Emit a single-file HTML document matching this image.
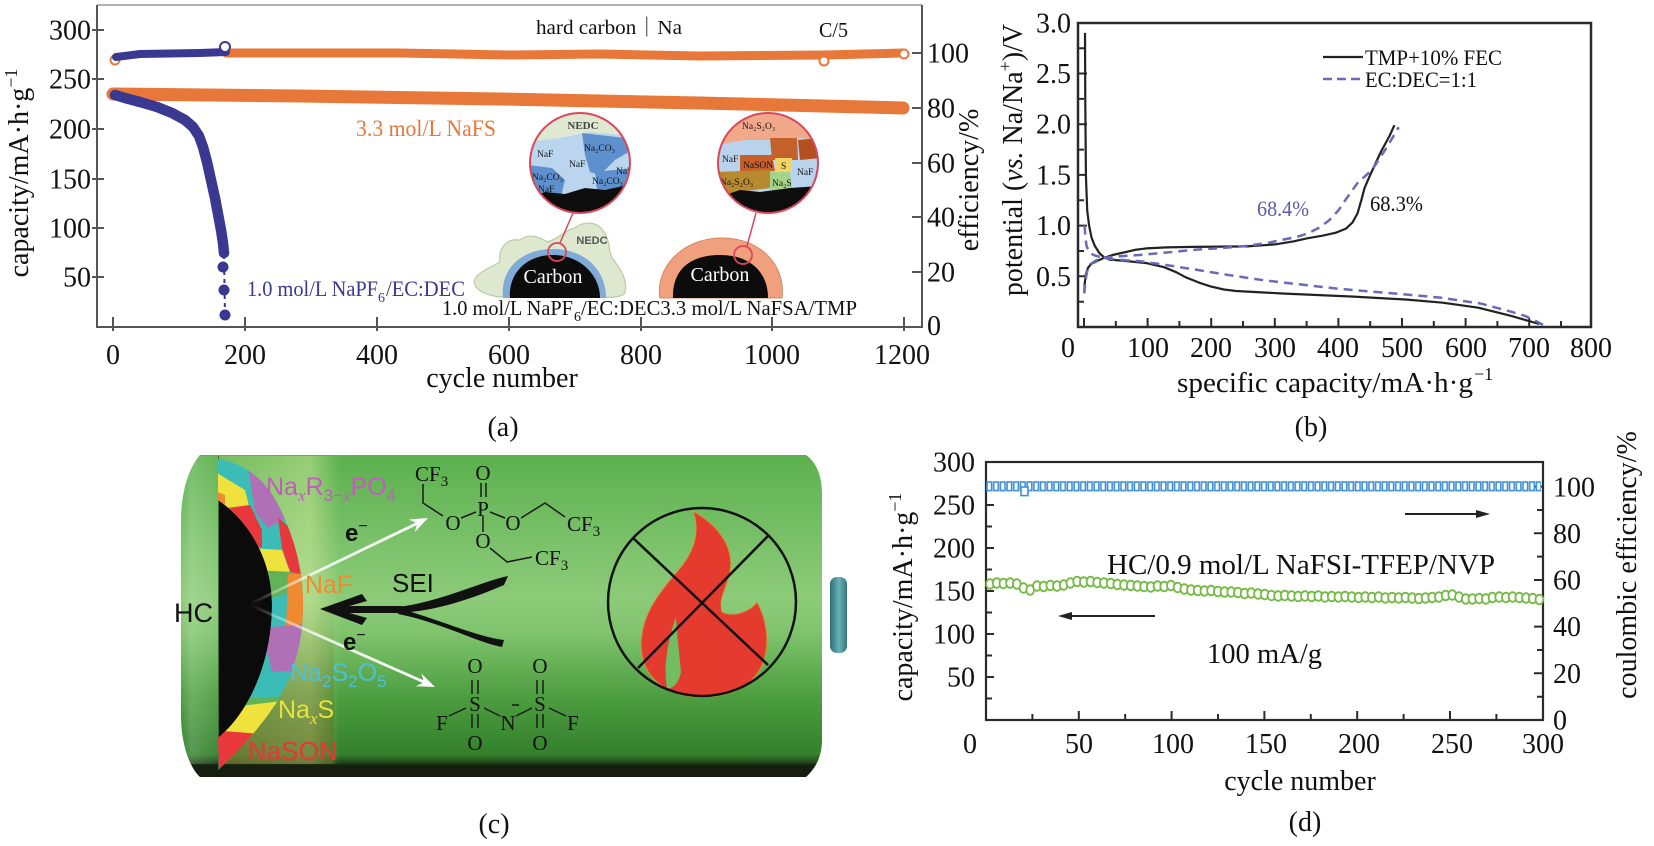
<!DOCTYPE html>
<html><head><meta charset="utf-8">
<style>
html,body{margin:0;padding:0;background:#fff;}
svg{display:block;}
text{font-family:"Liberation Serif","Noto Serif CJK SC",serif;fill:#111;}
.s{font-family:"Liberation Sans","Noto Sans CJK SC",sans-serif;}
</style></head><body>
<svg width="1654" height="846" viewBox="0 0 1654 846" xmlns="http://www.w3.org/2000/svg">
<defs>
<linearGradient id="bodyG" x1="0" y1="455" x2="0" y2="777" gradientUnits="userSpaceOnUse">
<stop offset="0" stop-color="#5bb04d"/>
<stop offset="0.28" stop-color="#7cc26b"/>
<stop offset="0.45" stop-color="#8ccb79"/>
<stop offset="0.55" stop-color="#80c46d"/>
<stop offset="0.75" stop-color="#4d9e40"/>
<stop offset="0.93" stop-color="#34802c"/>
<stop offset="0.955" stop-color="#22461a"/>
<stop offset="0.965" stop-color="#161e10"/>
<stop offset="1" stop-color="#161e10"/>
</linearGradient>
<linearGradient id="leftG" x1="219" y1="0" x2="340" y2="0" gradientUnits="userSpaceOnUse">
<stop offset="0" stop-color="#e0f0a8" stop-opacity="0.2"/>
<stop offset="0.75" stop-color="#e0f0a8" stop-opacity="0.45"/>
<stop offset="1" stop-color="#e0f0a8" stop-opacity="0"/>
</linearGradient>
<linearGradient id="oliveG" x1="0" y1="600" x2="0" y2="765" gradientUnits="userSpaceOnUse">
<stop offset="0" stop-color="#6e641e" stop-opacity="0"/>
<stop offset="1" stop-color="#6e641e" stop-opacity="0.55"/>
</linearGradient>
<linearGradient id="capG" x1="180" y1="0" x2="219" y2="0" gradientUnits="userSpaceOnUse">
<stop offset="0" stop-color="#ffffff" stop-opacity="0"/>
<stop offset="0.3" stop-color="#ffffff" stop-opacity="0.18"/>
<stop offset="1" stop-color="#ffffff" stop-opacity="0.05"/>
</linearGradient>
<linearGradient id="term" x1="830" y1="0" x2="848" y2="0" gradientUnits="userSpaceOnUse">
<stop offset="0" stop-color="#2c6f76"/>
<stop offset="0.5" stop-color="#6ab2b8"/>
<stop offset="1" stop-color="#2f6f75"/>
</linearGradient>
<linearGradient id="wa1" x1="250" y1="604" x2="420" y2="522" gradientUnits="userSpaceOnUse">
<stop offset="0" stop-color="#fff" stop-opacity="0"/>
<stop offset="0.4" stop-color="#fff" stop-opacity="0.8"/>
<stop offset="1" stop-color="#fff"/>
</linearGradient>
<linearGradient id="wa2" x1="250" y1="605" x2="424" y2="682" gradientUnits="userSpaceOnUse">
<stop offset="0" stop-color="#fff" stop-opacity="0"/>
<stop offset="0.4" stop-color="#fff" stop-opacity="0.8"/>
<stop offset="1" stop-color="#fff"/>
</linearGradient>
<clipPath id="seiClip"><path d="M218,459 C245,463 268,480 283,515 C298,548 304,580 303,610 C302,650 290,685 270,712 C255,733 238,752 219,769 L218,738 C250,712 272,660 272,605 C272,555 245,518 218,500 Z"/></clipPath>
<clipPath id="cl1"><circle cx="580" cy="163" r="50"/></clipPath>
<clipPath id="cl2"><circle cx="768" cy="163" r="50"/></clipPath>
<pattern id="sq" x="986" y="480" width="6.7" height="14" patternUnits="userSpaceOnUse">
<rect x="1" y="2" width="4.6" height="8.6" fill="#fff" stroke="#3f8fd6" stroke-width="1.6"/>
</pattern>
<marker id="gc" markerWidth="14" markerHeight="14" refX="7" refY="7" markerUnits="userSpaceOnUse">
<ellipse cx="7" cy="7" rx="3.9" ry="4.8" fill="#fff" stroke="#74b944" stroke-width="1.8"/>
</marker>
</defs>

<!-- ================= PANEL A ================= -->
<line x1="97" y1="5" x2="922" y2="5" stroke="#999" stroke-width="1.5"/>
<line x1="97" y1="5" x2="97" y2="328" stroke="#555" stroke-width="2"/>
<line x1="96" y1="327" x2="923" y2="327" stroke="#555" stroke-width="2"/>
<line x1="922" y1="5" x2="922" y2="328" stroke="#555" stroke-width="2"/>
<path d="M92,30H104 M92,79H104 M92,129H104 M92,179H104 M92,228H104 M92,277H104" stroke="#555" stroke-width="2"/>
<path d="M113,317V331 M245,317V331 M377,317V331 M509,317V331 M641,317V331 M772,317V331 M904,317V331" stroke="#555" stroke-width="2"/>
<path d="M912,53H922 M912,108H922 M912,163H922 M912,217H922 M912,272H922" stroke="#555" stroke-width="2"/>
<g font-size="28" text-anchor="end">
<text x="91" y="39.5">300</text><text x="91" y="88.5">250</text><text x="91" y="138.5">200</text>
<text x="91" y="188.5">150</text><text x="91" y="237.5">100</text><text x="91" y="286.5">50</text>
</g>
<g font-size="28" text-anchor="middle">
<text x="113" y="364">0</text><text x="245" y="364">200</text><text x="377" y="364">400</text>
<text x="509" y="364">600</text><text x="641" y="364">800</text><text x="772" y="364">1000</text><text x="902" y="364">1200</text>
<text x="502" y="387">cycle number</text>
<text x="503" y="436">(a)</text>
</g>
<g font-size="28">
<text x="927" y="62.5">100</text><text x="927" y="117.5">80</text><text x="927" y="172.5">60</text>
<text x="927" y="226.5">40</text><text x="927" y="281.5">20</text><text x="927" y="335">0</text>
</g>
<text font-size="28" text-anchor="middle" transform="translate(28,173) rotate(-90)">capacity/mA·h·g<tspan font-size="18" dy="-11">−1</tspan></text>
<text font-size="28" text-anchor="middle" transform="translate(978,180) rotate(-90)">efficiency/%</text>

<!-- orange series -->
<polyline points="113,94 300,96 500,99 700,103 903,108" fill="none" stroke="#e8773a" stroke-width="13" stroke-linecap="round" stroke-linejoin="round"/>
<polyline points="226,53 400,53 512,55 600,54 700,56 824,55 903,53" fill="none" stroke="#e8773a" stroke-width="9" stroke-linecap="round" stroke-linejoin="round"/>
<circle cx="115" cy="60" r="4.5" fill="#fff" stroke="#e8773a" stroke-width="2"/>
<circle cx="824" cy="61" r="4.5" fill="#fff" stroke="#e8773a" stroke-width="2"/>
<circle cx="904" cy="54" r="4.5" fill="#fff" stroke="#e8773a" stroke-width="2"/>
<!-- navy series -->
<polyline points="116,57 140,54 200,53 226,52" fill="none" stroke="#3b3892" stroke-width="8" stroke-linecap="round"/>
<circle cx="225" cy="47" r="5" fill="#fff" stroke="#3b3892" stroke-width="2"/>
<polyline points="115,95 125,98 140,102 157,107 172,113 185,120 193,127 199,136 203,147 207,162 211,180 215,198 218,214 221,230 223,243 224,253" fill="none" stroke="#3b3892" stroke-width="10.5" stroke-linecap="round" stroke-linejoin="round"/>
<line x1="224" y1="255" x2="225" y2="315" stroke="#3b3892" stroke-width="2" stroke-dasharray="4 4"/>
<circle cx="223" cy="267" r="5.5" fill="#3b3892"/>
<circle cx="224" cy="290" r="5.5" fill="#3b3892"/>
<circle cx="225" cy="315" r="5.5" fill="#3b3892"/>

<text x="536" y="34" font-size="20" textLength="146" lengthAdjust="spacingAndGlyphs">hard carbon｜Na</text>
<text x="819" y="37" font-size="21" textLength="29" lengthAdjust="spacingAndGlyphs">C/5</text>
<text x="356" y="136" font-size="23" fill="#e8773a" style="fill:#e8773a" textLength="140" lengthAdjust="spacingAndGlyphs">3.3  mol/L NaFS</text>
<text x="247" y="296" font-size="22" style="fill:#3b3892" textLength="131" lengthAdjust="spacingAndGlyphs">1.0 mol/L NaPF</text>
<text x="378" y="302" font-size="14" style="fill:#3b3892">6</text>
<text x="386" y="296" font-size="22" style="fill:#3b3892" textLength="79" lengthAdjust="spacingAndGlyphs">/EC:DEC</text>

<!-- insets -->
<path d="M475,285 C470,275 490,268 500,262 C498,250 505,238 520,240 C530,232 540,238 548,242 C560,238 565,230 575,228 C585,220 598,222 604,232 C610,240 608,250 612,258 C620,268 628,280 625,292 C625,297 610,298 600,297 L500,297 C490,296 478,292 475,285 Z" fill="#dde8cf" stroke="#b8cca4" stroke-width="1.2"/>
<path d="M503,298 C500,270 520,249 553,249 C585,249 606,270 606,298 Z" fill="#80aad8"/>
<path d="M510,298 C508,275 525,255 553,255 C580,255 600,275 600,298 Z" fill="#0c0c0c"/>
<text x="553" y="283" font-size="20" text-anchor="middle" style="fill:#fff">Carbon</text>
<text x="592" y="244" font-size="11" text-anchor="middle" class="s" style="fill:#555;font-weight:bold">NEDC</text>
<path d="M660,298 C655,270 680,239 720,238 C760,237 786,265 782,298 Z" fill="#f1a07d" stroke="#d48866" stroke-width="1"/>
<path d="M673,298 C672,270 690,255 720,255 C750,255 768,272 768,298 Z" fill="#0c0c0c"/>
<text x="720" y="281" font-size="20" text-anchor="middle" style="fill:#fff">Carbon</text>
<circle cx="557" cy="252" r="9" fill="none" stroke="#d9475a" stroke-width="1.8"/>
<circle cx="743" cy="255" r="9" fill="none" stroke="#d9475a" stroke-width="1.8"/>
<line x1="573" y1="213" x2="560" y2="243" stroke="#d9475a" stroke-width="1.5"/>
<line x1="756" y1="213" x2="747" y2="246" stroke="#d9475a" stroke-width="1.5"/>
<g clip-path="url(#cl1)">
<rect x="528" y="111" width="104" height="104" fill="#dfe9d2"/>
<path d="M528,142 L560,138 L590,132 L632,136 L632,200 L528,200Z" fill="#bcd5ee"/>
<path d="M582,133 L625,138 L632,150 L615,160 L600,175 L590,172 L585,155Z" fill="#5d90cc"/>
<path d="M528,165 L552,168 L565,180 L560,200 L528,200Z" fill="#5d90cc"/>
<path d="M595,172 L632,168 L632,200 L598,200Z" fill="#5d90cc"/>
<path d="M528,198 L545,192 L565,194 L585,188 L605,190 L632,184 L632,215 L528,215Z" fill="#0d0d0d"/>
<g class="s" font-size="9.5" style="fill:#2b3550">
<text x="583" y="129" style="fill:#444;font-weight:bold" font-size="11" text-anchor="middle">NEDC</text>
<text x="537" y="157">NaF</text><text x="584" y="151">Na₂CO₃</text><text x="569" y="167">NaF</text>
<text x="532" y="180">Na₂CO₃</text><text x="592" y="184">Na₂CO₃</text><text x="538" y="192">NaF</text><text x="616" y="174">NaF</text>
</g>
</g>
<circle cx="580" cy="163" r="50" fill="none" stroke="#d9475a" stroke-width="2"/>
<g clip-path="url(#cl2)">
<rect x="716" y="111" width="104" height="104" fill="#b9d3ec"/>
<path d="M716,111 H820 V140 L800,138 L775,140 L745,140 L716,145Z" fill="#f2a98a"/>
<path d="M770,138 L797,138 L798,160 L772,160Z" fill="#c4602a"/>
<path d="M798,140 L820,138 L820,158 L800,160Z" fill="#b45020"/>
<path d="M740,155 L772,155 L775,171 L740,172Z" fill="#c8602c"/>
<path d="M775,158 L792,158 L792,172 L776,172Z" fill="#f4d465"/>
<path d="M716,172 L770,170 L770,188 L716,195Z" fill="#b88a30"/>
<path d="M770,172 L790,172 L792,190 L770,190Z" fill="#a4d48a"/>
<path d="M716,198 L740,190 L760,192 L790,188 L820,186 V215 H716Z" fill="#0d0d0d"/>
<g class="s" font-size="9.5" style="fill:#3a2a20">
<text x="742" y="129">Na₂S₂O₃</text><text x="722" y="162">NaF</text><text x="743" y="168">NaSON</text>
<text x="781" y="169">S</text><text x="720" y="185">Na₂S₂O₃</text><text x="772" y="186">Na₂S</text><text x="797" y="175">NaF</text>
</g>
</g>
<circle cx="768" cy="163" r="50" fill="none" stroke="#d9475a" stroke-width="2"/>
<text x="442" y="315" font-size="21" textLength="131" lengthAdjust="spacingAndGlyphs">1.0 mol/L NaPF</text>
<text x="574" y="321" font-size="14">6</text>
<text x="581" y="315" font-size="21" textLength="276" lengthAdjust="spacingAndGlyphs">/EC:DEC3.3 mol/L NaFSA/TMP</text>

<!-- ================= PANEL B ================= -->
<rect x="1078" y="23" width="513" height="304" fill="none" stroke="#2a2a2a" stroke-width="2.5"/>
<path d="M1079,301.7H1084 M1079,276.3H1087 M1079,251H1084 M1079,225.6H1087 M1079,200.3H1084 M1079,174.9H1087 M1079,149.6H1084 M1079,124.2H1087 M1079,98.9H1084 M1079,73.5H1087 M1079,48.2H1084" stroke="#2a2a2a" stroke-width="2"/>
<path d="M1084,326V318 M1115.8,326V321 M1147.6,326V318 M1179.4,326V321 M1211.2,326V318 M1243,326V321 M1274.8,326V318 M1306.6,326V321 M1338.4,326V318 M1370.2,326V321 M1402,326V318 M1433.8,326V321 M1465.6,326V318 M1497.4,326V321 M1529.2,326V318 M1561,326V321" stroke="#2a2a2a" stroke-width="2"/>
<g font-size="28" text-anchor="end">
<text x="1071" y="32.5">3.0</text><text x="1071" y="82.8">2.5</text><text x="1071" y="133.7">2.0</text>
<text x="1071" y="184.4">1.5</text><text x="1071" y="235.1">1.0</text><text x="1071" y="285.8">0.5</text>
</g>
<g font-size="28" text-anchor="middle">
<text x="1068" y="357">0</text><text x="1148" y="357">100</text><text x="1211" y="357">200</text><text x="1275" y="357">300</text>
<text x="1338" y="357">400</text><text x="1402" y="357">500</text><text x="1466" y="357">600</text><text x="1529" y="357">700</text><text x="1591" y="357">800</text>
<text x="1311" y="436">(b)</text>
</g>
<text x="1177" y="392" font-size="28" textLength="296" lengthAdjust="spacingAndGlyphs">specific capacity/mA·h·g</text>
<text x="1474" y="380" font-size="18">−1</text>
<text font-size="28" text-anchor="middle" transform="translate(1022,160) rotate(-90)">potential (<tspan font-style="italic">vs.</tspan> Na/Na<tspan font-size="18" dy="-11">+</tspan><tspan dy="11">)/V</tspan></text>
<polyline points="1085,32.9 1085.3,103.9 1085.9,174.9 1087.2,210.4 1089.1,225.6 1091.6,237.8 1094.8,245.9 1099.3,253 1103.7,257 1109.4,259.6 1122.2,260.6 1146.3,263.1 1164.1,267.2 1176.2,272.2 1185.8,277.3 1198.5,282.4 1210.6,286.4 1223.9,289.5 1236,291 1282.4,293.5 1353.7,296.6 1407.1,299.6 1442.7,302.7 1478.3,307.7 1510.8,315.8 1528.6,320.9 1539.4,324" fill="none" stroke="#222" stroke-width="2.2" stroke-linejoin="round"/>
<polyline points="1084.3,291.5 1084.6,284.4 1085.9,274.3 1087.8,268.2 1091,264.1 1096.7,261.1 1103.7,258 1112.6,255 1121.5,253 1134.9,249.9 1146.3,248.4 1166.7,247.4 1192.8,246.9 1246.8,246.4 1274.8,244.4 1293.9,241.3 1307.2,238.3 1322.5,235.7 1335.9,232.7 1346,228.6 1352.4,222.6 1357.5,213.4 1361.3,200.3 1364.5,188.1 1370.2,174.9 1381,151.6 1389.3,136.4 1394.4,125.2" fill="none" stroke="#222" stroke-width="2.2" stroke-linejoin="round"/>
<polyline points="1084.6,225.6 1085.3,235.7 1086.5,245.9 1089.1,252 1093.5,255 1103.7,258 1115.8,259.6 1139.3,261.1 1166.7,265.1 1192.8,269.2 1230.3,275.3 1264.6,280.4 1300.2,284.4 1335.9,288.5 1370.2,291.5 1407.1,294.6 1440.2,297.6 1460.5,300.6 1481.5,303.7 1496.1,307.7 1511.4,311.8 1524.7,315.8 1535.6,320.9 1543.2,325" fill="none" stroke="#6a6ab8" stroke-width="2.5" stroke-dasharray="9 6" stroke-linejoin="round"/>
<polyline points="1084.3,293.5 1085.3,281.4 1087.2,271.2 1090.4,264.1 1096.7,260.1 1103.7,258 1115.8,256.5 1139.3,255 1166.7,252.5 1192.8,249.9 1223.9,247.9 1246.8,245.9 1268.4,242.8 1282.4,239.8 1297.1,236.8 1307.2,233.7 1319.3,227.6 1328.9,220.5 1338.4,210.4 1346,199.2 1357.5,183 1372.1,169.8 1386.1,148.5 1398.8,127.2" fill="none" stroke="#6a6ab8" stroke-width="2.5" stroke-dasharray="9 6" stroke-linejoin="round"/>
<line x1="1323" y1="57" x2="1363" y2="57" stroke="#222" stroke-width="2.2"/>
<line x1="1323" y1="79" x2="1363" y2="79" stroke="#6a6ab8" stroke-width="2.5" stroke-dasharray="9 5"/>
<text x="1365" y="65" font-size="22" textLength="137" lengthAdjust="spacingAndGlyphs">TMP+10% FEC</text>
<text x="1365" y="87" font-size="22" textLength="112" lengthAdjust="spacingAndGlyphs">EC:DEC=1:1</text>
<text x="1257" y="216" font-size="22" style="fill:#5a5aaa" textLength="52" lengthAdjust="spacingAndGlyphs">68.4%</text>
<text x="1370" y="211" font-size="22" textLength="53" lengthAdjust="spacingAndGlyphs">68.3%</text>

<!-- ================= PANEL C ================= -->
<path d="M200,455 L806,455 C816,462 822,475 822,495 L822,740 C822,756 816,768 806,777 L200,777 C190,768 181,745 181,715 L181,520 C181,490 190,466 200,455 Z" fill="url(#bodyG)"/>
<rect x="181" y="456" width="38" height="308" fill="url(#capG)"/>
<rect x="219" y="456" width="121" height="308" fill="url(#leftG)"/>
<rect x="219" y="600" width="115" height="164" fill="url(#oliveG)"/>
<rect x="830" y="577" width="17" height="76" rx="7" fill="url(#term)"/>
<path d="M218,500 C245,518 272,555 272,605 C272,660 250,712 218,738 Z" fill="#0b0b0b"/>
<line x1="218.5" y1="456" x2="218.5" y2="770" stroke="#3c6a30" stroke-width="1"/>
<g clip-path="url(#seiClip)">
<rect x="212" y="455" width="96" height="325" fill="#3bbcb6"/>
<polygon points="212,470 245,490 250,510 212,515" fill="#f0e23c"/>
<polygon points="212,490 225,495 225,510 212,510" fill="#f08a30"/>
<polygon points="248,466 290,485 292,515 268,528 255,512" fill="#b070b5"/>
<polygon points="212,510 250,505 262,530 262,548 240,540" fill="#e8383c"/>
<polygon points="278,518 306,540 306,575 290,572 282,548" fill="#e8383c"/>
<polygon points="250,548 282,550 290,572 262,575" fill="#f0e23c"/>
<polygon points="255,570 292,572 296,590 272,598" fill="#62b25a"/>
<polygon points="288,574 308,574 308,628 286,628" fill="#f08a30"/>
<polygon points="262,628 308,624 308,670 272,672" fill="#b070b5"/>
<polygon points="248,698 290,696 280,712 245,712" fill="#62b25a"/>
<polygon points="225,708 290,700 268,740 222,745" fill="#f0e23c"/>
<polygon points="210,730 262,734 255,780 210,780" fill="#e8383c"/>
<polygon points="210,760 228,775 210,780" fill="#62b25a"/>
</g>
<!-- white arrows -->
<line x1="250" y1="604" x2="418" y2="523" stroke="url(#wa1)" stroke-width="2.8"/>
<polygon points="428,518 414.8,532.1 417.2,523.2 408.8,519.5" fill="#fff"/>
<line x1="250" y1="605" x2="424" y2="682" stroke="url(#wa2)" stroke-width="2.8"/>
<polygon points="435,687 415.7,686.2 424,682.2 421.3,673.4" fill="#fff"/>
<!-- SEI arrow -->
<path d="M508,576 C480,582 440,602 398,607 L398,613 C440,611 478,596 504,585 Z" fill="#111"/>
<path d="M504,640 C478,637 440,620 398,608 L398,614 C440,622 476,642 502,647 Z" fill="#111"/>
<rect x="332" y="606" width="70" height="7" fill="#111"/>
<path d="M320,609 L362,594 L367,601 L337,609.5 L367,618 L362,625 Z" fill="#111"/>
<!-- labels -->
<text class="s" x="174" y="622" font-size="27">HC</text>
<text class="s" x="266" y="495" font-size="25" style="fill:#c45cc0">Na<tspan font-size="17" dy="6" font-style="italic" font-family="Liberation Serif">x</tspan><tspan dy="-6">R</tspan><tspan font-size="17" dy="6">3−</tspan><tspan font-size="17" font-style="italic" font-family="Liberation Serif">x</tspan><tspan dy="-6">PO</tspan><tspan font-size="17" dy="6">4</tspan></text>
<text class="s" x="345" y="541" font-size="24" font-weight="bold">e<tspan font-size="16" dy="-10" font-weight="normal">−</tspan></text>
<text class="s" x="343" y="650" font-size="24" font-weight="bold">e<tspan font-size="16" dy="-10" font-weight="normal">−</tspan></text>
<text class="s" x="305" y="593" font-size="25" style="fill:#f28a2e">NaF</text>
<text class="s" x="392" y="592" font-size="26">SEI</text>
<text class="s" x="290" y="681" font-size="25" style="fill:#4cc0d8">Na<tspan font-size="17" dy="6">2</tspan><tspan dy="-6">S</tspan><tspan font-size="17" dy="6">2</tspan><tspan dy="-6">O</tspan><tspan font-size="17" dy="6">5</tspan></text>
<text class="s" x="278" y="718" font-size="25" style="fill:#e8e23a">Na<tspan font-size="17" dy="6" font-style="italic" font-family="Liberation Serif">x</tspan><tspan dy="-6">S</tspan></text>
<text class="s" x="248" y="760" font-size="26" style="fill:#e8343a">NaSON</text>
<!-- TFEP molecule -->
<g stroke="#1a1a1a" stroke-width="1.5" fill="none">
<path d="M423,484 L423,503 L443,516"/>
<path d="M461,518 L476,512"/>
<path d="M481,483 L481,497 M486,483 L486,497"/>
<path d="M490,512 L505,518"/>
<path d="M521,518 L545,503 L565,517"/>
<path d="M483,516 L483,532"/>
<path d="M490,548 L507,562 L532,557"/>
<path d="M472,680 L472,694 M478,680 L478,694 M537,680 L537,694 M543,680 L543,694"/>
<path d="M472,714 L472,728 M478,714 L478,728 M537,714 L537,728 M543,714 L543,728"/>
<path d="M449,716 L466,708 M484,708 L500,716 M516,716 L532,708 M549,708 L566,716"/>
<path d="M512,705 L519,705"/>
</g>
<g class="s" font-size="21" style="fill:#1a1a1a" text-anchor="middle">
<text x="483" y="480">O</text><text x="483" y="516">P</text><text x="453" y="530">O</text><text x="513" y="530">O</text><text x="483" y="548">O</text>
<text x="475" y="673">O</text><text x="540" y="673">O</text><text x="475" y="711">S</text><text x="540" y="711">S</text>
<text x="442" y="730">F</text><text x="508" y="730">N</text><text x="573" y="730">F</text>
<text x="475" y="750">O</text><text x="540" y="750">O</text>
</g>
<g class="s" font-size="21" style="fill:#1a1a1a">
<text x="415" y="481">CF<tspan font-size="15" dy="5">3</tspan></text>
<text x="567" y="531">CF<tspan font-size="15" dy="5">3</tspan></text>
<text x="535" y="565">CF<tspan font-size="15" dy="5">3</tspan></text>
</g>
<!-- no fire -->
<path d="M700,697 C668,697 641,678 641,645 C641,612 662,590 680,568 C695,550 700,530 693,511 C715,523 735,545 730,572 C727,588 718,598 722,612 C735,618 752,610 757,602 C770,625 772,660 752,680 C738,694 718,697 700,697 Z" fill="#e53b2f" stroke="#c89a3a" stroke-width="1"/>
<path d="M676,617 C668,640 663,665 667,688 C673,690 679,682 681,672 C679,652 677,635 676,617 Z" fill="#72bd62"/>
<circle cx="702" cy="602" r="94" fill="none" stroke="#111" stroke-width="2.5"/>
<line x1="633" y1="538" x2="768" y2="665" stroke="#111" stroke-width="2.5"/>
<line x1="768" y1="536" x2="638" y2="668" stroke="#111" stroke-width="2.5"/>
<text x="494" y="833" font-size="28" text-anchor="middle">(c)</text>

<!-- ================= PANEL D ================= -->
<rect x="986" y="462" width="557" height="258" fill="none" stroke="#2a2a2a" stroke-width="2.2"/>
<path d="M987,698.5H992 M987,677H994 M987,655.5H992 M987,634H994 M987,612.5H992 M987,591H994 M987,569.5H992 M987,548H994 M987,526.5H992 M987,505H994 M987,483.5H992" stroke="#2a2a2a" stroke-width="2"/>
<path d="M1542,696.7H1537 M1542,673.3H1534 M1542,650H1537 M1542,626.6H1534 M1542,603.3H1537 M1542,580H1534 M1542,556.6H1537 M1542,533.3H1534 M1542,510H1537 M1542,486.6H1534" stroke="#2a2a2a" stroke-width="2"/>
<path d="M1032.4,719V714 M1078.8,719V711 M1125.2,719V714 M1171.6,719V711 M1218,719V714 M1264.4,719V711 M1310.8,719V714 M1357.2,719V711 M1403.6,719V714 M1450,719V711 M1496.4,719V714" stroke="#2a2a2a" stroke-width="2"/>
<g font-size="28" text-anchor="end">
<text x="975" y="471.5">300</text><text x="975" y="514.5">250</text><text x="975" y="557.5">200</text>
<text x="975" y="600.5">150</text><text x="975" y="643.5">100</text><text x="975" y="686.5">50</text>
</g>
<g font-size="28">
<text x="1553" y="496.5">100</text><text x="1553" y="543">80</text><text x="1553" y="589.5">60</text>
<text x="1553" y="636">40</text><text x="1553" y="683">20</text><text x="1553" y="729.5">0</text>
</g>
<g font-size="28" text-anchor="middle">
<text x="970" y="753">0</text><text x="1079" y="753">50</text><text x="1173" y="753">100</text><text x="1266" y="753">150</text>
<text x="1359" y="753">200</text><text x="1452" y="753">250</text><text x="1543" y="753">300</text>
<text x="1300" y="790">cycle number</text>
<text x="1305" y="831">(d)</text>
</g>
<text font-size="28" text-anchor="middle" transform="translate(912,597) rotate(-90)">capacity/mA·h·g<tspan font-size="18" dy="-11">−1</tspan></text>
<text font-size="28" text-anchor="middle" transform="translate(1636,565) rotate(-90)">coulombic efficiency/%</text>
<rect x="986" y="480" width="555" height="14" fill="url(#sq)"/>
<rect x="1021" y="487" width="7" height="8.6" fill="#fff" stroke="#3f8fd6" stroke-width="1.6"/>
<polyline fill="none" stroke="none" marker-start="url(#gc)" marker-mid="url(#gc)" marker-end="url(#gc)" points="990,584 996.7,583 1003.4,583.5 1010.1,583 1016.8,584 1023.5,588 1030.2,590 1036.9,586 1043.6,586.5 1050.3,585.5 1057,586 1063.7,585 1070.4,583 1077.1,581.5 1083.8,582 1090.5,581.5 1097.2,582.5 1103.9,583 1110.6,583.5 1117.3,584.5 1124,585 1130.7,585.5 1137.4,586 1144.1,586.5 1150.8,587 1157.5,586 1164.2,586.5 1170.9,585.5 1177.6,587.5 1184.3,589 1191,590 1197.7,590.5 1204.4,591 1211.1,590.5 1217.8,591.5 1224.5,592 1231.2,592 1237.9,592.5 1244.6,593.5 1251.3,593 1258,594 1264.7,594.5 1271.4,595.5 1278.1,596 1284.8,595.5 1291.5,596 1298.2,596.5 1304.9,596 1311.6,596.5 1318.3,596 1325,597 1331.7,596.5 1338.4,597 1345.1,596.5 1351.8,597 1358.5,597.5 1365.2,597 1371.9,597.5 1378.6,597 1385.3,598 1392,597.5 1398.7,598 1405.4,597.5 1412.1,598 1418.8,598.5 1425.5,598 1432.2,597.5 1438.9,597 1445.6,595.5 1452.3,595 1459,597 1465.7,599 1472.4,599 1479.1,598.5 1485.8,599 1492.5,597.5 1499.2,597 1505.9,597.5 1512.6,597 1519.3,597.5 1526,598 1532.7,598.5 1539.4,599.5"/>
<text x="1107" y="574" font-size="28" textLength="388" lengthAdjust="spacingAndGlyphs">HC/0.9 mol/L NaFSI-TFEP/NVP</text>
<text x="1207" y="663" font-size="28" textLength="115" lengthAdjust="spacingAndGlyphs">100 mA/g</text>
<line x1="1405" y1="514" x2="1480" y2="514" stroke="#222" stroke-width="2"/>
<polygon points="1490,514 1476,510 1476,518" fill="#222"/>
<line x1="1155" y1="616" x2="1068" y2="616" stroke="#222" stroke-width="2"/>
<polygon points="1058,616 1072,612 1072,620" fill="#222"/>
</svg>
</body></html>
